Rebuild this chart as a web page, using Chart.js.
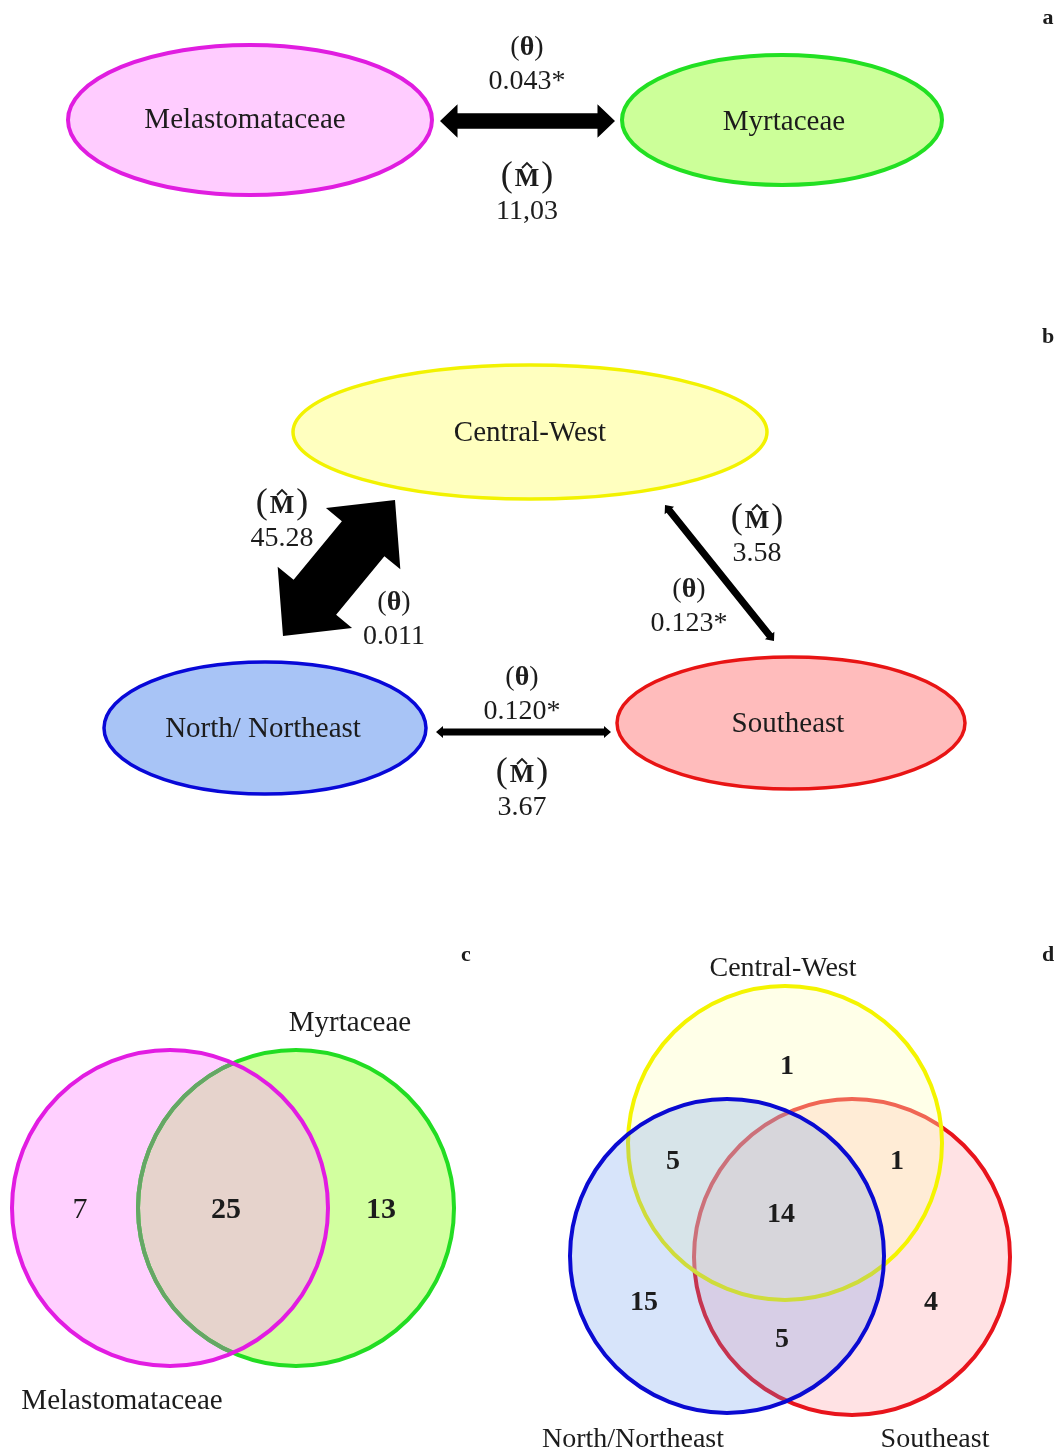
<!DOCTYPE html>
<html>
<head>
<meta charset="utf-8">
<script src="https://cdn.jsdelivr.net/npm/chart.js@4"></script>
<style>
  html, body { margin: 0; padding: 0; background: #fff; }
  #wrap { width: 1061px; height: 1454px; }
</style>
</head>
<body>
<div id="wrap"><canvas id="fig" width="1061" height="1454"></canvas></div>
<script>
// groups
const taxa = ['Melastomataceae', 'Myrtaceae'];
const regions = ['Central-West', 'North/ Northeast', 'Southeast'];
const vennRegionNames = ['Central-West', 'North/Northeast', 'Southeast'];

// pairwise estimates: taxa, CW-N/NE, CW-SE, N/NE-SE
const thetaValues = [0.043, 0.011, 0.123, 0.120];
const thetaSignificant = [true, false, true, true];
const migrationValues = [11.03, 45.28, 3.58, 3.67];

// shared counts
const taxaCounts = [7, 25, 13];                 // Melastomataceae only, both, Myrtaceae only
const regionCounts = [1, 5, 1, 14, 15, 4, 5];   // CW, CW+N, CW+SE, all, N, SE, N+SE

// ---- layout (canvas units) ----
const TXT = '#1c1c1c';
const SERIF = '"Liberation Serif", "DejaVu Serif", serif';

const ellipses = [
  { name: taxa[0], cx: 250, cy: 120, rx: 182, ry: 75, lx: 245, ly: 120, fill: '#ffccff', stroke: '#e01de0', lw: 4 },
  { name: taxa[1], cx: 782, cy: 120, rx: 160, ry: 65, lx: 784, ly: 122, fill: '#ccff99', stroke: '#22e022', lw: 4 },
  { name: regions[0], cx: 530, cy: 432, rx: 237, ry: 67, lx: 530, ly: 433, fill: '#ffffbf', stroke: '#f2f200', lw: 3.5 },
  { name: regions[1], cx: 265, cy: 728, rx: 161, ry: 66, lx: 263, ly: 729, fill: '#a8c4f6', stroke: '#0808d8', lw: 3.5 },
  { name: regions[2], cx: 791, cy: 723, rx: 174, ry: 66, lx: 788, ly: 724, fill: '#ffbcbc', stroke: '#e81414', lw: 3.5 }
];

// arrow ends and label anchors per pair (same order as the estimate arrays)
const edges = [
  { a: [440, 121], b: [615, 121], th: [527, 48], m: [527, 176], comma: true },
  { a: [283, 636], b: [395, 500], th: [394, 603], m: [282, 503], comma: false },
  { a: [665, 505], b: [774, 641], th: [689, 590], m: [757, 518], comma: false },
  { a: [436, 732], b: [611, 732], th: [522, 678], m: [522, 772], comma: false }
];

const vennTaxa = [
  { cx: 170, cy: 1208, r: 158, fill: '#ffd0ff', stroke: '#e21ce2', label: taxa[0], lx: 122, ly: 1401 },
  { cx: 296, cy: 1208, r: 158, fill: '#d2ff9f', stroke: '#22dd22', label: taxa[1], lx: 350, ly: 1023 }
];
const taxaCountPos = [[80, 1210, false], [226, 1210, true], [381, 1210, true]];

// drawn in this order: Southeast, Central-West, North/Northeast on top
const vennRegions = [
  { cx: 852, cy: 1257, r: 158, fill: 'rgba(255,110,120,0.2)', stroke: '#e8141c', label: vennRegionNames[2], lx: 935, ly: 1440 },
  { cx: 785, cy: 1143, r: 157, fill: 'rgba(255,255,190,0.35)', stroke: '#f4f400', label: vennRegionNames[0], lx: 783, ly: 969 },
  { cx: 727, cy: 1256, r: 157, fill: 'rgba(95,147,235,0.25)', stroke: '#0a0ad2', label: vennRegionNames[1], lx: 633, ly: 1440 }
];
const regionCountPos = [[787, 1067], [673, 1162], [897, 1162], [781, 1215], [644, 1303], [931, 1303], [782, 1340]];

const panelLetters = [['a', 1048, 18], ['b', 1048, 337], ['c', 466, 955], ['d', 1048, 955]];

// arrow thickness follows the migration estimate
const shaftWidth = m => 3 + 1.15 * m;

function fmtTheta(i) {
  return thetaValues[i].toFixed(3) + (thetaSignificant[i] ? '*' : '');
}
function fmtM(i, comma) {
  const s = migrationValues[i].toFixed(2);
  return comma ? s.replace('.', ',') : s;
}

const figurePlugin = {
  id: 'figure',
  afterDraw(chart) {
    const ctx = chart.ctx;
    const xs = chart.scales.x, ys = chart.scales.y;
    const X = v => xs.getPixelForValue(v);
    const Y = v => ys.getPixelForValue(v);
    const L = v => Math.abs(xs.getPixelForValue(v) - xs.getPixelForValue(0));

    function text(str, x, y, size, bold, align) {
      ctx.font = (bold ? 'bold ' : '') + size + 'px ' + SERIF;
      ctx.fillStyle = TXT;
      ctx.textAlign = align || 'center';
      ctx.textBaseline = 'middle';
      ctx.fillText(str, X(x), Y(y));
    }

    function thetaLabel(x, y) {
      ctx.save();
      ctx.textBaseline = 'middle';
      ctx.fillStyle = TXT;
      ctx.font = '28px ' + SERIF;
      const wp = ctx.measureText('(').width;
      ctx.font = 'bold 28px ' + SERIF;
      const wt = ctx.measureText('\u03b8').width;
      let x0 = X(x) - (wp * 2 + wt) / 2;
      ctx.textAlign = 'left';
      ctx.font = '28px ' + SERIF;
      ctx.fillText('(', x0, Y(y));
      ctx.font = 'bold 28px ' + SERIF;
      ctx.fillText('\u03b8', x0 + wp, Y(y));
      ctx.font = '28px ' + SERIF;
      ctx.fillText(')', x0 + wp + wt, Y(y));
      ctx.restore();
    }

    function mLabel(x, y) {
      ctx.save();
      ctx.textBaseline = 'middle';
      ctx.fillStyle = TXT;
      ctx.font = '36px ' + SERIF;
      const wp = ctx.measureText('(').width;
      ctx.font = 'bold 26px ' + SERIF;
      const wm = ctx.measureText('M').width;
      const gap = 2;
      let x0 = X(x) - (wp * 2 + wm + gap * 2) / 2;
      const yc = Y(y);
      ctx.textAlign = 'left';
      ctx.font = '36px ' + SERIF;
      ctx.fillText('(', x0, yc + 1);
      ctx.font = 'bold 26px ' + SERIF;
      ctx.fillText('M', x0 + wp + gap, yc + 3);
      ctx.font = '36px ' + SERIF;
      ctx.fillText(')', x0 + wp + wm + gap * 2, yc + 1);
      // hat over M
      const mx = x0 + wp + gap + wm / 2;
      ctx.strokeStyle = TXT;
      ctx.lineWidth = 1.8;
      ctx.beginPath();
      ctx.moveTo(mx - 5, yc - 8);
      ctx.lineTo(mx, yc - 13);
      ctx.lineTo(mx + 5, yc - 8);
      ctx.stroke();
      ctx.restore();
    }

    function arrow(p1, p2, w) {
      const x1 = X(p1[0]), y1 = Y(p1[1]), x2 = X(p2[0]), y2 = Y(p2[1]);
      const len = Math.hypot(x2 - x1, y2 - y1);
      const ux = (x2 - x1) / len, uy = (y2 - y1) / len;
      const nx = -uy, ny = ux;
      const hw = w < 10 ? w + 5 : Math.max(w * 1.75, w + 18);
      const hl = w < 10 ? 7 : hw * 0.52;
      const b1 = [x1 + ux * hl, y1 + uy * hl];
      const b2 = [x2 - ux * hl, y2 - uy * hl];
      const pts = [
        [x1, y1],
        [b1[0] + nx * hw / 2, b1[1] + ny * hw / 2],
        [b1[0] + nx * w / 2, b1[1] + ny * w / 2],
        [b2[0] + nx * w / 2, b2[1] + ny * w / 2],
        [b2[0] + nx * hw / 2, b2[1] + ny * hw / 2],
        [x2, y2],
        [b2[0] - nx * hw / 2, b2[1] - ny * hw / 2],
        [b2[0] - nx * w / 2, b2[1] - ny * w / 2],
        [b1[0] - nx * w / 2, b1[1] - ny * w / 2],
        [b1[0] - nx * hw / 2, b1[1] - ny * hw / 2]
      ];
      ctx.beginPath();
      pts.forEach((p, i) => i ? ctx.lineTo(p[0], p[1]) : ctx.moveTo(p[0], p[1]));
      ctx.closePath();
      ctx.fillStyle = '#000';
      ctx.fill();
    }

    function circlePath(c) {
      ctx.beginPath();
      ctx.arc(X(c.cx), Y(c.cy), L(c.r), 0, Math.PI * 2);
    }

    ctx.save();

    // panels a and b: ellipses
    ellipses.forEach(e => {
      ctx.beginPath();
      ctx.ellipse(X(e.cx), Y(e.cy), L(e.rx), L(e.ry), 0, 0, Math.PI * 2);
      ctx.fillStyle = e.fill;
      ctx.fill();
      ctx.lineWidth = e.lw;
      ctx.strokeStyle = e.stroke;
      ctx.stroke();
      text(e.name, e.lx, e.ly, 29, false);
    });

    // arrows with theta / M labels
    edges.forEach((ed, i) => {
      arrow(ed.a, ed.b, shaftWidth(migrationValues[i]));
      thetaLabel(ed.th[0], ed.th[1]);
      text(fmtTheta(i), ed.th[0], ed.th[1] + 34, 28, false);
      mLabel(ed.m[0], ed.m[1]);
      text(fmtM(i, ed.comma), ed.m[0], ed.m[1] + 36, 28, false);
    });

    // panel c: two-set Venn
    const [c1, c2] = vennTaxa;
    circlePath(c1); ctx.fillStyle = c1.fill; ctx.fill();
    circlePath(c2); ctx.fillStyle = c2.fill; ctx.fill();
    ctx.save();
    circlePath(c1); ctx.clip();
    circlePath(c2); ctx.fillStyle = '#e6d3cc'; ctx.fill();
    ctx.restore();
    ctx.lineWidth = 4;
    circlePath(c2); ctx.strokeStyle = c2.stroke; ctx.stroke();
    ctx.save();
    circlePath(c1); ctx.clip();
    circlePath(c2); ctx.strokeStyle = 'rgba(110,160,110,0.9)'; ctx.stroke();
    ctx.restore();
    circlePath(c1); ctx.strokeStyle = c1.stroke; ctx.stroke();
    vennTaxa.forEach(c => text(c.label, c.lx, c.ly, 29, false));
    taxaCounts.forEach((n, i) => {
      const p = taxaCountPos[i];
      text(String(n), p[0], p[1], 30, p[2]);
    });

    // panel d: three-set Venn
    vennRegions.forEach(c => {
      circlePath(c);
      ctx.fillStyle = c.fill;
      ctx.fill();
      ctx.lineWidth = 4;
      ctx.strokeStyle = c.stroke;
      ctx.stroke();
    });
    vennRegions.forEach(c => text(c.label, c.lx, c.ly, 28, false));
    regionCounts.forEach((n, i) => {
      const p = regionCountPos[i];
      text(String(n), p[0], p[1], 28, true);
    });

    panelLetters.forEach(l => text(l[0], l[1], l[2], 22, true));

    ctx.restore();
  }
};

new Chart(document.getElementById('fig'), {
  type: 'scatter',
  data: { datasets: [] },
  options: {
    responsive: false,
    animation: false,
    events: [],
    layout: { padding: 0 },
    plugins: { legend: { display: false }, tooltip: { enabled: false } },
    scales: {
      x: { type: 'linear', min: 0, max: 1061, display: false },
      y: { type: 'linear', min: 0, max: 1454, reverse: true, display: false }
    }
  },
  plugins: [figurePlugin]
});
</script>
</body>
</html>
